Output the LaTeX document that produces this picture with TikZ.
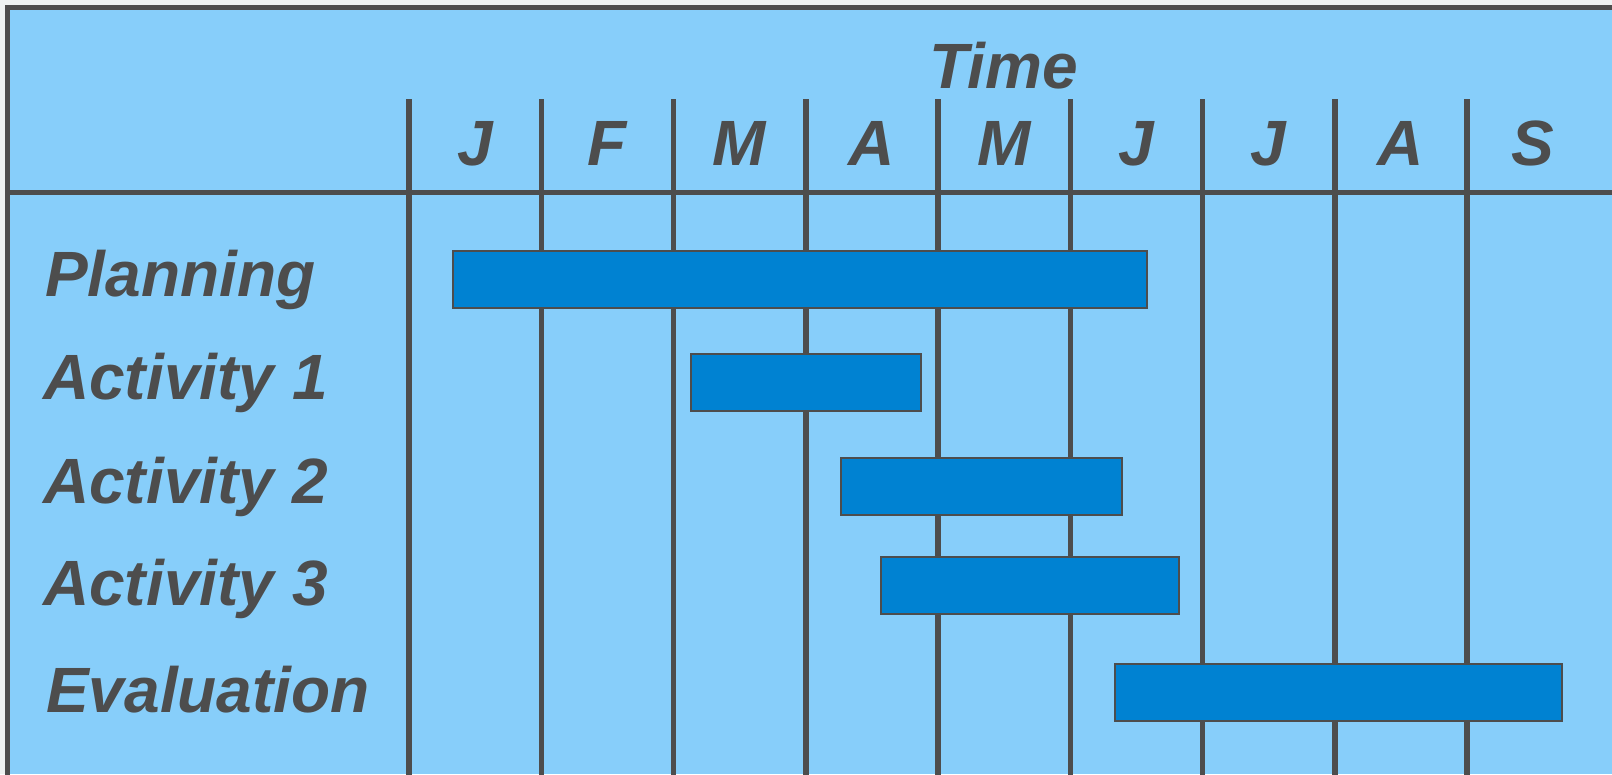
\documentclass[tikz,border=0pt]{standalone}
\usepackage{fontspec}
\setmainfont{Liberation Sans}
\definecolor{bg}{HTML}{87CEFA}
\definecolor{ink}{HTML}{4D4D4D}
\definecolor{barfill}{HTML}{0082D2}
\definecolor{page}{HTML}{EEF2F2}
\begin{document}
\begin{tikzpicture}[x=1pt,y=-1pt,
  lbl/.style={font=\fontsize{64}{64}\selectfont\bfseries\itshape, text=ink, inner sep=0pt},
  gridline/.style={draw=ink, line width=5.5pt},
  barbox/.style={draw=ink, line width=2pt, fill=barfill}]
\useasboundingbox (0,0) rectangle (1612,774);
\fill[page] (0,0) rectangle (1612,774);
\fill[bg] (7.5,7.5) rectangle (1612,774);
% frame
\draw[gridline, line width=5pt] (7.5,776) -- (7.5,7.5) -- (1614,7.5);
% header line
\draw[gridline, line width=5pt] (7.5,192) -- (1614,192);
% month lines and labels
\foreach \m [count=\i from 0] in {J,F,M,A,M,J,J,A,S}{
  \draw[gridline] ({409+132.25*\i},99) -- ({409+132.25*\i},776);
  \node[lbl, anchor=base] (m\i) at ({475.1+132.25*\i},165) {\m};
}
\node[lbl, anchor=base] (time) at (1004,88) {Time};
% bars
\path[barbox] (453,251) rectangle (1147,308);
\path[barbox] (691,354) rectangle (921,411);
\path[barbox] (841,458) rectangle (1122,515);
\path[barbox] (881,557) rectangle (1179,614);
\path[barbox] (1115,664) rectangle (1562,721);
% row labels
\node[lbl, anchor=base west] (plan) at (45,296) {Planning};
\node[lbl, anchor=base west] (act1) at (43,399) {Activity 1};
\node[lbl, anchor=base west] (act2) at (43,503) {Activity 2};
\node[lbl, anchor=base west] (act3) at (43,605) {Activity 3};
\node[lbl, anchor=base west] (eval) at (46,712) {Evaluation};
\end{tikzpicture}
\end{document}
